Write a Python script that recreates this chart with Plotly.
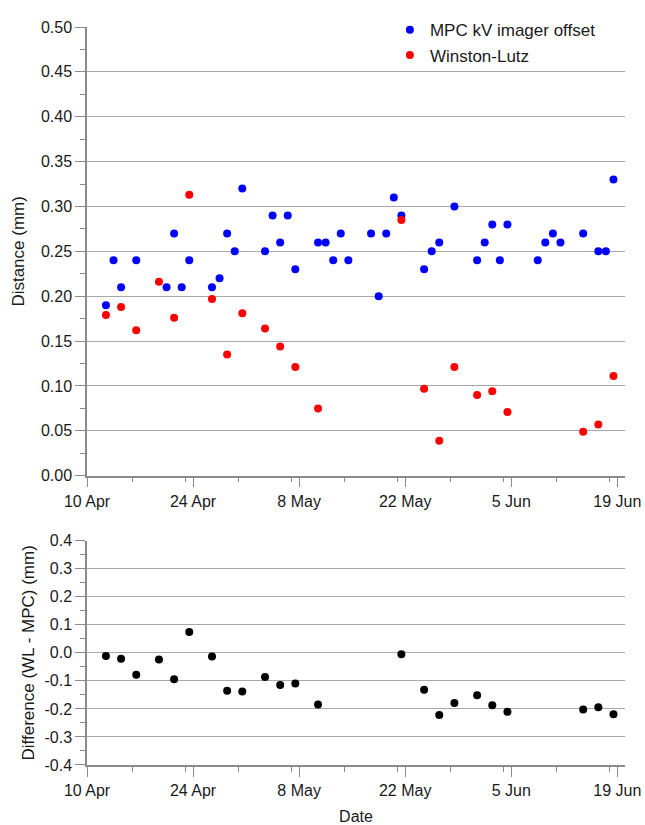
import plotly.graph_objects as go

# ---------------- data ----------------
mpc_dates = ["2017-04-12", "2017-04-13", "2017-04-14", "2017-04-16", "2017-04-20",
             "2017-04-21", "2017-04-22", "2017-04-23", "2017-04-26", "2017-04-27",
             "2017-04-28", "2017-04-29", "2017-04-30", "2017-05-03", "2017-05-04",
             "2017-05-05", "2017-05-06", "2017-05-07", "2017-05-10", "2017-05-11",
             "2017-05-12", "2017-05-13", "2017-05-14", "2017-05-17", "2017-05-18",
             "2017-05-19", "2017-05-20", "2017-05-21", "2017-05-24", "2017-05-25",
             "2017-05-26", "2017-05-28", "2017-05-31", "2017-06-01", "2017-06-02",
             "2017-06-03", "2017-06-04", "2017-06-08", "2017-06-09", "2017-06-10",
             "2017-06-11", "2017-06-14", "2017-06-16", "2017-06-17", "2017-06-18"]
mpc_values = [0.19, 0.24, 0.21, 0.24, 0.21,
              0.27, 0.21, 0.24, 0.21, 0.22,
              0.27, 0.25, 0.32, 0.25, 0.29,
              0.26, 0.29, 0.23, 0.26, 0.26,
              0.24, 0.27, 0.24, 0.27, 0.20,
              0.27, 0.31, 0.29, 0.23, 0.25,
              0.26, 0.30, 0.24, 0.26, 0.28,
              0.24, 0.28, 0.24, 0.26, 0.27,
              0.26, 0.27, 0.25, 0.25, 0.33]

wl_dates = ["2017-04-12", "2017-04-14", "2017-04-16", "2017-04-19", "2017-04-21",
            "2017-04-23", "2017-04-26", "2017-04-28", "2017-04-30", "2017-05-03",
            "2017-05-05", "2017-05-07", "2017-05-10", "2017-05-21", "2017-05-24",
            "2017-05-26", "2017-05-28", "2017-05-31", "2017-06-02", "2017-06-04",
            "2017-06-14", "2017-06-16", "2017-06-18"]
wl_values = [0.179, 0.188, 0.162, 0.216, 0.176,
             0.313, 0.197, 0.135, 0.181, 0.164,
             0.144, 0.121, 0.075, 0.285, 0.097,
             0.039, 0.121, 0.090, 0.094, 0.071,
             0.049, 0.057, 0.111]

diff_values = [-0.011, -0.021, -0.078, -0.024, -0.094,
               0.074, -0.013, -0.135, -0.138, -0.086,
               -0.115, -0.109, -0.184, -0.005, -0.132,
               -0.222, -0.179, -0.151, -0.187, -0.210,
               -0.202, -0.194, -0.219]

top_grid_vals = [0.05, 0.10, 0.15, 0.20, 0.25, 0.30, 0.35, 0.40, 0.45]
bottom_tick_vals = [-0.4, -0.3, -0.2, -0.1, 0.0, 0.1, 0.2, 0.3, 0.4]
bottom_tick_text = ["-0.4", "-0.3", "-0.2", "-0.1", "0.0", "0.1", "0.2", "0.3", "0.4"]
bottom_grid_vals = [-0.3, -0.2, -0.1, 0.0, 0.1, 0.2, 0.3]

# measurements taken around midday
mpc_x = [d + " 12:00" for d in mpc_dates]
wl_x = [d + " 12:00" for d in wl_dates]

FONT = "Liberation Sans, Arial, sans-serif"
TXT = "#1a1a1a"
AXC = "#8a8a8a"
GRC = "#a8a8a8"
DAY = 86400000

fig = go.Figure()
fig.add_trace(go.Scatter(x=mpc_x, y=mpc_values, mode="markers", name="MPC kV imager offset",
                         marker=dict(color="#0000ff", size=8), xaxis="x", yaxis="y"))
fig.add_trace(go.Scatter(x=wl_x, y=wl_values, mode="markers", name="Winston-Lutz",
                         marker=dict(color="#ff0000", size=8), xaxis="x", yaxis="y"))
fig.add_trace(go.Scatter(x=wl_x, y=diff_values, mode="markers", showlegend=False,
                         marker=dict(color="#000000", size=8), xaxis="x2", yaxis="y2"))
# empty traces so the grid-only overlay axes get drawn
fig.add_trace(go.Scatter(x=[], y=[], showlegend=False, xaxis="x", yaxis="y3"))
fig.add_trace(go.Scatter(x=[], y=[], showlegend=False, xaxis="x2", yaxis="y4"))

xcommon = dict(type="date", range=["2017-04-10", "2017-06-20 00:30"],
               tick0="2017-04-10", dtick=14 * DAY, tickformat="%-d %b",
               showline=True, linecolor=AXC, linewidth=1.5,
               ticks="outside", ticklen=10, tickcolor=AXC, tickwidth=1,
               minor=dict(ticks="outside", ticklen=5, dtick=7 * DAY, tickcolor=AXC, showgrid=False),
               showgrid=False, zeroline=False, automargin=False,
               tickfont=dict(family=FONT, size=16, color=TXT))

fig.update_layout(
    width=645, height=825,
    margin=dict(l=87, r=20, t=15, b=60),
    paper_bgcolor="white", plot_bgcolor="white",
    font=dict(family=FONT, size=16, color=TXT),
    xaxis=dict(domain=[0, 1], anchor="y", **xcommon),
    yaxis=dict(domain=[0.392, 1], anchor="x", range=[0, 0.5], dtick=0.05, tickformat=".2f",
               showline=True, linecolor=AXC, linewidth=1.5,
               ticks="outside", ticklen=10, tickcolor=AXC,
               minor=dict(ticks="outside", ticklen=5, dtick=0.025, tickcolor=AXC, showgrid=False),
               showgrid=False, zeroline=False, automargin=False,
               title=dict(text="Distance (mm)", font=dict(family=FONT, size=17, color=TXT), standoff=12),
               tickfont=dict(family=FONT, size=16, color=TXT)),
    yaxis3=dict(overlaying="y", anchor="x", range=[0, 0.5], tickmode="array", tickvals=top_grid_vals,
                showticklabels=False, ticks="", showgrid=True, gridcolor=GRC, gridwidth=1,
                zeroline=False, showline=False, automargin=False),
    xaxis2=dict(domain=[0, 1], anchor="y2",
                title=dict(text="Date", font=dict(family=FONT, size=16, color=TXT), standoff=17),
                **xcommon),
    yaxis2=dict(domain=[0, 0.304], anchor="x2", range=[-0.4, 0.4],
                tickmode="array", tickvals=bottom_tick_vals, ticktext=bottom_tick_text,
                showline=True, linecolor=AXC, linewidth=1.5,
                ticks="outside", ticklen=10, tickcolor=AXC,
                minor=dict(ticks="outside", ticklen=5, dtick=0.05, tickcolor=AXC, showgrid=False),
                showgrid=False, zeroline=False, automargin=False,
                title=dict(text="Difference (WL - MPC) (mm)", font=dict(family=FONT, size=17, color=TXT), standoff=6),
                tickfont=dict(family=FONT, size=16, color=TXT)),
    yaxis4=dict(overlaying="y2", anchor="x2", range=[-0.4, 0.4], tickmode="array", tickvals=bottom_grid_vals,
                showticklabels=False, ticks="", showgrid=True, gridcolor=GRC, gridwidth=1,
                zeroline=False, showline=False, automargin=False),
    legend=dict(x=0.563, y=1.02, xanchor="left", yanchor="top", bgcolor="rgba(0,0,0,0)",
                font=dict(family=FONT, size=17, color=TXT), tracegroupgap=0, itemwidth=30),
    showlegend=True,
)

fig.write_html("out.html",
               config={"displayModeBar": False},
               post_script="document.body.style.margin='0';document.body.style.overflow='hidden';")
